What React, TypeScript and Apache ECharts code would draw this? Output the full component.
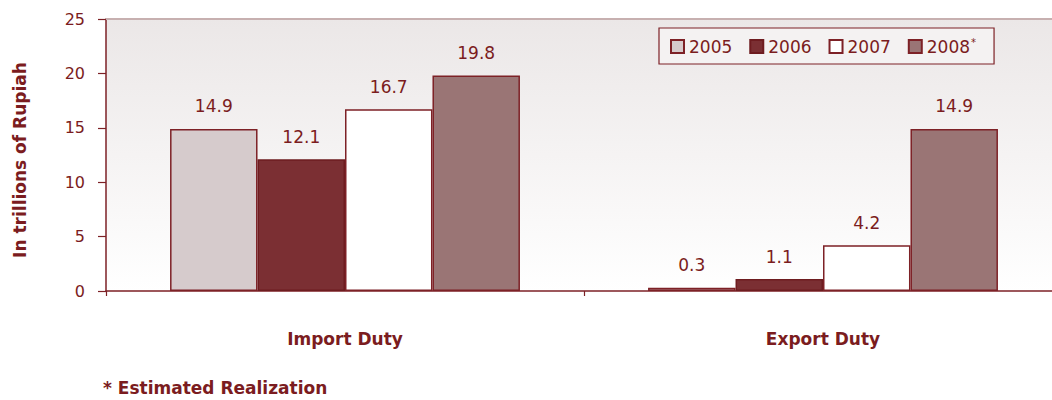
import React, { useEffect, useRef } from "react";
import * as echarts from "echarts";

const categories = ["Import Duty", "Export Duty"];
const years = ["2005", "2006", "2007", "2008"];
const values2005 = [14.9, 0.3];
const values2006 = [12.1, 1.1];
const values2007 = [16.7, 4.2];
const values2008 = [19.8, 14.9];
const yTicks = { min: 0, max: 25, interval: 5 };

const TEXT = "#7b1c20";
const BORDER = "#7d2126";
const FONT = "DejaVu Sans";

export default function App() {
  const ref = useRef<HTMLDivElement>(null);
  useEffect(() => {
    if (!ref.current) return;
    const chart = echarts.init(ref.current, null, { renderer: "svg" });
    const fills = ["#d6cbcc", "#7b2f33", "#ffffff", "#9a7575"];
    const borders = [BORDER, "#6e1c20", BORDER, BORDER];
    const seriesData = [values2005, values2006, values2007, values2008];
    chart.setOption({
      animation: false,
      backgroundColor: "#ffffff",
      textStyle: { fontFamily: FONT },
      grid: {
        left: 106,
        top: 19,
        width: 956,
        height: 272,
        show: true,
        borderWidth: 0,
        backgroundColor: {
          type: "linear",
          x: 0,
          y: 0,
          x2: 0,
          y2: 1,
          colorStops: [
            { offset: 0, color: "#ebe7e7" },
            { offset: 1, color: "#ffffff" },
          ],
        },
      },
      legend: {
        left: 659,
        top: 28,
        orient: "horizontal",
        data: years,
        icon: "rect",
        itemWidth: 13,
        itemHeight: 13,
        itemGap: 17,
        itemTextGap: 8,
        padding: [9, 18, 9, 11],
        borderColor: BORDER,
        borderWidth: 1.2,
        backgroundColor: "#f4f2f2",
        textStyle: {
          color: TEXT,
          fontSize: 17,
          fontFamily: FONT,
          rich: {
            s: { fontSize: 10, color: TEXT, padding: [0, 0, 9, 1], fontFamily: FONT },
          },
        },
        formatter: (name: string) => (name === "2008" ? "2008{s|*}" : name),
      },
      xAxis: [
        {
          type: "category",
          data: categories,
          position: "bottom",
          axisLine: { lineStyle: { color: BORDER, width: 1.5 } },
          axisTick: { show: true, length: 5, lineStyle: { color: BORDER, width: 1.2 } },
          axisLabel: {
            color: TEXT,
            fontSize: 17,
            fontWeight: "bold",
            fontFamily: FONT,
            margin: 39,
          },
        },
        {
          type: "category",
          data: categories,
          position: "top",
          axisLine: { lineStyle: { color: "#c7b0b0", width: 2 } },
          axisTick: { show: false },
          axisLabel: { show: false },
        },
      ],
      yAxis: {
        type: "value",
        min: yTicks.min,
        max: yTicks.max,
        interval: yTicks.interval,
        axisLine: { show: true, lineStyle: { color: BORDER, width: 1.5 } },
        axisTick: { show: true, length: 8, lineStyle: { color: BORDER, width: 1.2 } },
        axisLabel: { color: TEXT, fontSize: 16, fontFamily: FONT, margin: 21 },
        splitLine: { show: false },
      },
      series: years.map((y, i) => ({
        name: y,
        type: "bar",
        xAxisIndex: 0,
        data: seriesData[i],
        barGap: "0%",
        barCategoryGap: "26.8%",
        itemStyle: { color: fills[i], borderColor: borders[i], borderWidth: 1.5 },
        label: {
          show: true,
          position: "top",
          distance: 14,
          color: TEXT,
          fontSize: 17,
          fontFamily: FONT,
          formatter: (p: any) => p.value.toFixed(1),
        },
      })),
      graphic: [
        {
          type: "text",
          x: 20,
          y: 160,
          rotation: Math.PI / 2,
          style: {
            text: "In trillions of Rupiah",
            fill: TEXT,
            fontSize: 17,
            fontWeight: "bold",
            fontFamily: FONT,
            align: "center",
            verticalAlign: "middle",
          },
        },
        {
          type: "text",
          left: 103,
          top: 379,
          style: {
            text: "* Estimated Realization",
            fill: TEXT,
            fontSize: 17,
            fontWeight: "bold",
            fontFamily: FONT,
          },
        },
      ],
    });
    return () => chart.dispose();
  }, []);
  return (
    <div
      style={{
        position: "absolute",
        left: 0,
        top: 0,
        width: 1052,
        height: 400,
        overflow: "hidden",
      }}
    >
      <div ref={ref} style={{ width: 1080, height: 400 }} />
    </div>
  );
}
